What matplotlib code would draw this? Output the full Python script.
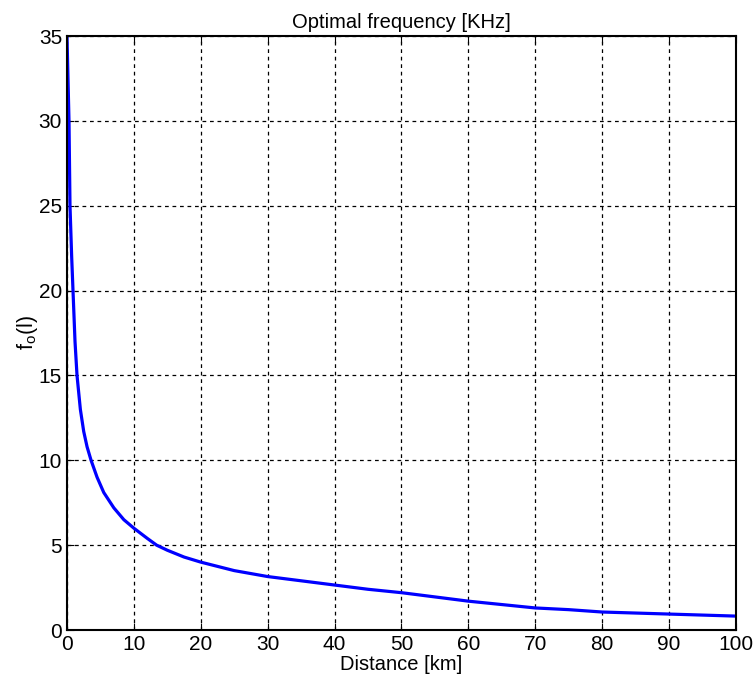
import matplotlib
matplotlib.use('Agg')
import matplotlib.pyplot as plt

plt.rcParams['font.family'] = ['Liberation Sans', 'DejaVu Sans']
plt.rcParams['mathtext.fontset'] = 'custom'
plt.rcParams['mathtext.rm'] = 'Liberation Sans'

# distance [km] and optimal frequency [KHz]
distance = [0, 0.3, 0.45, 0.7, 0.9, 1.2, 1.5, 2, 2.5, 3, 3.6, 4.5, 5.5, 7, 8.5,
            10, 12, 13.4, 15, 17.5, 20, 25, 30, 35, 40, 45, 50, 55, 60, 65,
            70, 75, 80, 85, 90, 95, 100]
freq = [35, 30, 25, 22, 20, 17, 15, 13, 11.7, 10.8, 10, 9, 8.1, 7.2, 6.5,
        6.0, 5.4, 5.0, 4.7, 4.3, 4.0, 3.5, 3.15, 2.9, 2.65, 2.4, 2.2, 1.95,
        1.7, 1.5, 1.3, 1.2, 1.06, 1.0, 0.94, 0.88, 0.82]
xticks = list(range(0, 101, 10))
yticks = list(range(0, 36, 5))

fig = plt.figure(figsize=(7.56, 6.98), dpi=100)
ax = fig.add_axes([0.0886, 0.0974, 0.8849, 0.851])

ax.plot(distance, freq, color='#0000ff', linewidth=2.3)

ax.set_xlim(0, 100)
ax.set_ylim(0, 35)
ax.set_xticks(xticks)
ax.set_yticks(yticks)
ax.grid(True, color='black', linestyle=(0, (3, 3)), linewidth=0.9)
ax.tick_params(direction='in', labelsize=15, length=5, top=True, right=True)
for s in ax.spines.values():
    s.set_linewidth(1.5)

ax.set_title('Optimal frequency [KHz]', fontsize=14.5, pad=6)
ax.set_xlabel('Distance [km]', fontsize=14.5, labelpad=1)
ax.set_ylabel(r'f$_\mathrm{o}$(l)', fontsize=15.5, labelpad=-1)

fig.savefig('out.png', dpi=100)
